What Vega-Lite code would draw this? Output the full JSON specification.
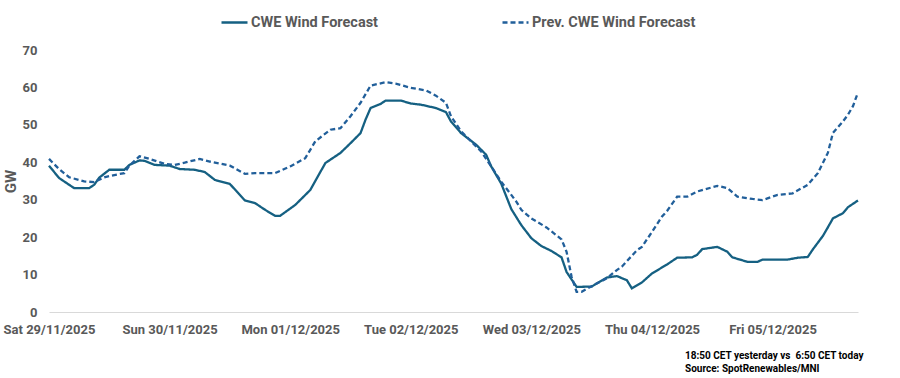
{
 "$schema": "https://vega.github.io/schema/vega-lite/v6.json",
 "width": 809,
 "height": 262,
 "autosize": {"type": "none"},
 "padding": {"left": 49, "top": 50, "right": 42, "bottom": 66},
 "background": "white",
 "config": {"view": {"stroke": null}, "font": "Roboto"},
 "title": {
  "text": ["18:50 CET yesterday vs \u00a06:50 CET today", "Source: SpotRenewables/MNI"],
  "orient": "bottom", "anchor": "start", "align": "left", "frame": "group",
  "dx": 636, "offset": 15,
  "font": "Roboto",
  "fontSize": 10, "fontWeight": "bold", "color": "#000000", "lineHeight": 12.5
 },
 "data": {"values": [
  {"s": "CWE Wind Forecast", "t": "2025-11-29T00:00Z", "v": 39.1},
  {"s": "CWE Wind Forecast", "t": "2025-11-29T02:00Z", "v": 35.8},
  {"s": "CWE Wind Forecast", "t": "2025-11-29T05:00Z", "v": 33.1},
  {"s": "CWE Wind Forecast", "t": "2025-11-29T08:00Z", "v": 33.1},
  {"s": "CWE Wind Forecast", "t": "2025-11-29T09:00Z", "v": 34.0},
  {"s": "CWE Wind Forecast", "t": "2025-11-29T10:00Z", "v": 35.9},
  {"s": "CWE Wind Forecast", "t": "2025-11-29T12:00Z", "v": 38.0},
  {"s": "CWE Wind Forecast", "t": "2025-11-29T15:00Z", "v": 38.0},
  {"s": "CWE Wind Forecast", "t": "2025-11-29T16:00Z", "v": 39.3},
  {"s": "CWE Wind Forecast", "t": "2025-11-29T18:00Z", "v": 40.5},
  {"s": "CWE Wind Forecast", "t": "2025-11-29T19:00Z", "v": 40.4},
  {"s": "CWE Wind Forecast", "t": "2025-11-29T21:00Z", "v": 39.3},
  {"s": "CWE Wind Forecast", "t": "2025-11-30T00:00Z", "v": 39.1},
  {"s": "CWE Wind Forecast", "t": "2025-11-30T02:00Z", "v": 38.2},
  {"s": "CWE Wind Forecast", "t": "2025-11-30T05:00Z", "v": 38.0},
  {"s": "CWE Wind Forecast", "t": "2025-11-30T07:00Z", "v": 37.4},
  {"s": "CWE Wind Forecast", "t": "2025-11-30T09:00Z", "v": 35.3},
  {"s": "CWE Wind Forecast", "t": "2025-11-30T12:00Z", "v": 34.2},
  {"s": "CWE Wind Forecast", "t": "2025-11-30T15:00Z", "v": 29.8},
  {"s": "CWE Wind Forecast", "t": "2025-11-30T17:00Z", "v": 29.1},
  {"s": "CWE Wind Forecast", "t": "2025-11-30T19:00Z", "v": 27.3},
  {"s": "CWE Wind Forecast", "t": "2025-11-30T21:00Z", "v": 25.7},
  {"s": "CWE Wind Forecast", "t": "2025-11-30T22:00Z", "v": 25.7},
  {"s": "CWE Wind Forecast", "t": "2025-12-01T01:00Z", "v": 28.6},
  {"s": "CWE Wind Forecast", "t": "2025-12-01T04:00Z", "v": 32.6},
  {"s": "CWE Wind Forecast", "t": "2025-12-01T07:00Z", "v": 39.8},
  {"s": "CWE Wind Forecast", "t": "2025-12-01T10:00Z", "v": 42.5},
  {"s": "CWE Wind Forecast", "t": "2025-12-01T12:00Z", "v": 45.1},
  {"s": "CWE Wind Forecast", "t": "2025-12-01T14:00Z", "v": 47.8},
  {"s": "CWE Wind Forecast", "t": "2025-12-01T15:00Z", "v": 51.4},
  {"s": "CWE Wind Forecast", "t": "2025-12-01T16:00Z", "v": 54.5},
  {"s": "CWE Wind Forecast", "t": "2025-12-01T18:00Z", "v": 55.6},
  {"s": "CWE Wind Forecast", "t": "2025-12-01T19:00Z", "v": 56.5},
  {"s": "CWE Wind Forecast", "t": "2025-12-01T22:00Z", "v": 56.5},
  {"s": "CWE Wind Forecast", "t": "2025-12-02T00:00Z", "v": 55.7},
  {"s": "CWE Wind Forecast", "t": "2025-12-02T02:00Z", "v": 55.4},
  {"s": "CWE Wind Forecast", "t": "2025-12-02T05:00Z", "v": 54.5},
  {"s": "CWE Wind Forecast", "t": "2025-12-02T07:00Z", "v": 53.4},
  {"s": "CWE Wind Forecast", "t": "2025-12-02T08:00Z", "v": 50.9},
  {"s": "CWE Wind Forecast", "t": "2025-12-02T10:00Z", "v": 47.8},
  {"s": "CWE Wind Forecast", "t": "2025-12-02T13:00Z", "v": 44.7},
  {"s": "CWE Wind Forecast", "t": "2025-12-02T15:00Z", "v": 42.0},
  {"s": "CWE Wind Forecast", "t": "2025-12-02T16:00Z", "v": 38.9},
  {"s": "CWE Wind Forecast", "t": "2025-12-02T18:00Z", "v": 34.3},
  {"s": "CWE Wind Forecast", "t": "2025-12-02T20:00Z", "v": 27.5},
  {"s": "CWE Wind Forecast", "t": "2025-12-02T22:00Z", "v": 23.2},
  {"s": "CWE Wind Forecast", "t": "2025-12-03T00:00Z", "v": 19.7},
  {"s": "CWE Wind Forecast", "t": "2025-12-03T02:00Z", "v": 17.6},
  {"s": "CWE Wind Forecast", "t": "2025-12-03T04:00Z", "v": 16.3},
  {"s": "CWE Wind Forecast", "t": "2025-12-03T06:00Z", "v": 14.6},
  {"s": "CWE Wind Forecast", "t": "2025-12-03T07:00Z", "v": 10.7},
  {"s": "CWE Wind Forecast", "t": "2025-12-03T09:00Z", "v": 6.7},
  {"s": "CWE Wind Forecast", "t": "2025-12-03T12:00Z", "v": 6.8},
  {"s": "CWE Wind Forecast", "t": "2025-12-03T13:00Z", "v": 7.6},
  {"s": "CWE Wind Forecast", "t": "2025-12-03T15:00Z", "v": 9.2},
  {"s": "CWE Wind Forecast", "t": "2025-12-03T17:00Z", "v": 9.6},
  {"s": "CWE Wind Forecast", "t": "2025-12-03T19:00Z", "v": 8.5},
  {"s": "CWE Wind Forecast", "t": "2025-12-03T20:00Z", "v": 6.3},
  {"s": "CWE Wind Forecast", "t": "2025-12-03T22:00Z", "v": 7.9},
  {"s": "CWE Wind Forecast", "t": "2025-12-04T00:00Z", "v": 10.3},
  {"s": "CWE Wind Forecast", "t": "2025-12-04T03:00Z", "v": 12.7},
  {"s": "CWE Wind Forecast", "t": "2025-12-04T05:00Z", "v": 14.5},
  {"s": "CWE Wind Forecast", "t": "2025-12-04T08:00Z", "v": 14.6},
  {"s": "CWE Wind Forecast", "t": "2025-12-04T09:00Z", "v": 15.3},
  {"s": "CWE Wind Forecast", "t": "2025-12-04T10:00Z", "v": 16.8},
  {"s": "CWE Wind Forecast", "t": "2025-12-04T13:00Z", "v": 17.4},
  {"s": "CWE Wind Forecast", "t": "2025-12-04T15:00Z", "v": 16.1},
  {"s": "CWE Wind Forecast", "t": "2025-12-04T16:00Z", "v": 14.6},
  {"s": "CWE Wind Forecast", "t": "2025-12-04T19:00Z", "v": 13.4},
  {"s": "CWE Wind Forecast", "t": "2025-12-04T21:00Z", "v": 13.4},
  {"s": "CWE Wind Forecast", "t": "2025-12-04T22:00Z", "v": 14.0},
  {"s": "CWE Wind Forecast", "t": "2025-12-05T03:00Z", "v": 14.0},
  {"s": "CWE Wind Forecast", "t": "2025-12-05T05:00Z", "v": 14.5},
  {"s": "CWE Wind Forecast", "t": "2025-12-05T07:00Z", "v": 14.7},
  {"s": "CWE Wind Forecast", "t": "2025-12-05T08:00Z", "v": 16.7},
  {"s": "CWE Wind Forecast", "t": "2025-12-05T10:00Z", "v": 20.3},
  {"s": "CWE Wind Forecast", "t": "2025-12-05T11:00Z", "v": 22.6},
  {"s": "CWE Wind Forecast", "t": "2025-12-05T12:00Z", "v": 25.0},
  {"s": "CWE Wind Forecast", "t": "2025-12-05T14:00Z", "v": 26.4},
  {"s": "CWE Wind Forecast", "t": "2025-12-05T15:00Z", "v": 28.0},
  {"s": "CWE Wind Forecast", "t": "2025-12-05T17:00Z", "v": 29.8},
  {"s": "Prev. CWE Wind Forecast", "t": "2025-11-29T00:00Z", "v": 40.9},
  {"s": "Prev. CWE Wind Forecast", "t": "2025-11-29T02:00Z", "v": 38.2},
  {"s": "Prev. CWE Wind Forecast", "t": "2025-11-29T04:00Z", "v": 36.0},
  {"s": "Prev. CWE Wind Forecast", "t": "2025-11-29T07:00Z", "v": 34.9},
  {"s": "Prev. CWE Wind Forecast", "t": "2025-11-29T09:00Z", "v": 34.7},
  {"s": "Prev. CWE Wind Forecast", "t": "2025-11-29T11:00Z", "v": 36.0},
  {"s": "Prev. CWE Wind Forecast", "t": "2025-11-29T13:00Z", "v": 36.6},
  {"s": "Prev. CWE Wind Forecast", "t": "2025-11-29T15:00Z", "v": 37.1},
  {"s": "Prev. CWE Wind Forecast", "t": "2025-11-29T16:00Z", "v": 39.1},
  {"s": "Prev. CWE Wind Forecast", "t": "2025-11-29T18:00Z", "v": 41.6},
  {"s": "Prev. CWE Wind Forecast", "t": "2025-11-29T20:00Z", "v": 40.9},
  {"s": "Prev. CWE Wind Forecast", "t": "2025-11-29T23:00Z", "v": 39.6},
  {"s": "Prev. CWE Wind Forecast", "t": "2025-11-30T01:00Z", "v": 39.3},
  {"s": "Prev. CWE Wind Forecast", "t": "2025-11-30T03:00Z", "v": 39.9},
  {"s": "Prev. CWE Wind Forecast", "t": "2025-11-30T06:00Z", "v": 40.9},
  {"s": "Prev. CWE Wind Forecast", "t": "2025-11-30T08:00Z", "v": 40.2},
  {"s": "Prev. CWE Wind Forecast", "t": "2025-11-30T12:00Z", "v": 39.1},
  {"s": "Prev. CWE Wind Forecast", "t": "2025-11-30T15:00Z", "v": 36.9},
  {"s": "Prev. CWE Wind Forecast", "t": "2025-11-30T17:00Z", "v": 37.1},
  {"s": "Prev. CWE Wind Forecast", "t": "2025-11-30T21:00Z", "v": 37.1},
  {"s": "Prev. CWE Wind Forecast", "t": "2025-12-01T00:00Z", "v": 38.9},
  {"s": "Prev. CWE Wind Forecast", "t": "2025-12-01T03:00Z", "v": 41.1},
  {"s": "Prev. CWE Wind Forecast", "t": "2025-12-01T05:00Z", "v": 45.6},
  {"s": "Prev. CWE Wind Forecast", "t": "2025-12-01T08:00Z", "v": 48.7},
  {"s": "Prev. CWE Wind Forecast", "t": "2025-12-01T10:00Z", "v": 49.1},
  {"s": "Prev. CWE Wind Forecast", "t": "2025-12-01T12:00Z", "v": 52.3},
  {"s": "Prev. CWE Wind Forecast", "t": "2025-12-01T14:00Z", "v": 55.9},
  {"s": "Prev. CWE Wind Forecast", "t": "2025-12-01T16:00Z", "v": 60.5},
  {"s": "Prev. CWE Wind Forecast", "t": "2025-12-01T19:00Z", "v": 61.4},
  {"s": "Prev. CWE Wind Forecast", "t": "2025-12-01T21:00Z", "v": 61.0},
  {"s": "Prev. CWE Wind Forecast", "t": "2025-12-02T00:00Z", "v": 59.9},
  {"s": "Prev. CWE Wind Forecast", "t": "2025-12-02T03:00Z", "v": 59.2},
  {"s": "Prev. CWE Wind Forecast", "t": "2025-12-02T05:00Z", "v": 57.8},
  {"s": "Prev. CWE Wind Forecast", "t": "2025-12-02T07:00Z", "v": 55.9},
  {"s": "Prev. CWE Wind Forecast", "t": "2025-12-02T08:00Z", "v": 52.3},
  {"s": "Prev. CWE Wind Forecast", "t": "2025-12-02T10:00Z", "v": 48.3},
  {"s": "Prev. CWE Wind Forecast", "t": "2025-12-02T12:00Z", "v": 45.6},
  {"s": "Prev. CWE Wind Forecast", "t": "2025-12-02T14:00Z", "v": 42.9},
  {"s": "Prev. CWE Wind Forecast", "t": "2025-12-02T16:00Z", "v": 38.9},
  {"s": "Prev. CWE Wind Forecast", "t": "2025-12-02T18:00Z", "v": 34.8},
  {"s": "Prev. CWE Wind Forecast", "t": "2025-12-02T20:00Z", "v": 31.3},
  {"s": "Prev. CWE Wind Forecast", "t": "2025-12-02T21:00Z", "v": 29.5},
  {"s": "Prev. CWE Wind Forecast", "t": "2025-12-02T22:00Z", "v": 27.3},
  {"s": "Prev. CWE Wind Forecast", "t": "2025-12-03T00:00Z", "v": 25.0},
  {"s": "Prev. CWE Wind Forecast", "t": "2025-12-03T03:00Z", "v": 22.6},
  {"s": "Prev. CWE Wind Forecast", "t": "2025-12-03T06:00Z", "v": 19.4},
  {"s": "Prev. CWE Wind Forecast", "t": "2025-12-03T07:00Z", "v": 16.1},
  {"s": "Prev. CWE Wind Forecast", "t": "2025-12-03T08:00Z", "v": 9.4},
  {"s": "Prev. CWE Wind Forecast", "t": "2025-12-03T09:00Z", "v": 5.4},
  {"s": "Prev. CWE Wind Forecast", "t": "2025-12-03T10:00Z", "v": 5.4},
  {"s": "Prev. CWE Wind Forecast", "t": "2025-12-03T12:00Z", "v": 6.9},
  {"s": "Prev. CWE Wind Forecast", "t": "2025-12-03T15:00Z", "v": 9.0},
  {"s": "Prev. CWE Wind Forecast", "t": "2025-12-03T17:00Z", "v": 11.2},
  {"s": "Prev. CWE Wind Forecast", "t": "2025-12-03T18:00Z", "v": 12.1},
  {"s": "Prev. CWE Wind Forecast", "t": "2025-12-03T21:00Z", "v": 16.5},
  {"s": "Prev. CWE Wind Forecast", "t": "2025-12-03T22:00Z", "v": 17.4},
  {"s": "Prev. CWE Wind Forecast", "t": "2025-12-04T00:00Z", "v": 21.4},
  {"s": "Prev. CWE Wind Forecast", "t": "2025-12-04T02:00Z", "v": 25.5},
  {"s": "Prev. CWE Wind Forecast", "t": "2025-12-04T03:00Z", "v": 27.0},
  {"s": "Prev. CWE Wind Forecast", "t": "2025-12-04T05:00Z", "v": 30.8},
  {"s": "Prev. CWE Wind Forecast", "t": "2025-12-04T07:00Z", "v": 30.8},
  {"s": "Prev. CWE Wind Forecast", "t": "2025-12-04T09:00Z", "v": 32.2},
  {"s": "Prev. CWE Wind Forecast", "t": "2025-12-04T13:00Z", "v": 33.7},
  {"s": "Prev. CWE Wind Forecast", "t": "2025-12-04T15:00Z", "v": 33.1},
  {"s": "Prev. CWE Wind Forecast", "t": "2025-12-04T17:00Z", "v": 30.8},
  {"s": "Prev. CWE Wind Forecast", "t": "2025-12-04T20:00Z", "v": 30.2},
  {"s": "Prev. CWE Wind Forecast", "t": "2025-12-04T22:00Z", "v": 29.9},
  {"s": "Prev. CWE Wind Forecast", "t": "2025-12-05T01:00Z", "v": 31.3},
  {"s": "Prev. CWE Wind Forecast", "t": "2025-12-05T04:00Z", "v": 31.7},
  {"s": "Prev. CWE Wind Forecast", "t": "2025-12-05T07:00Z", "v": 34.0},
  {"s": "Prev. CWE Wind Forecast", "t": "2025-12-05T09:00Z", "v": 37.1},
  {"s": "Prev. CWE Wind Forecast", "t": "2025-12-05T11:00Z", "v": 42.5},
  {"s": "Prev. CWE Wind Forecast", "t": "2025-12-05T12:00Z", "v": 47.8},
  {"s": "Prev. CWE Wind Forecast", "t": "2025-12-05T14:00Z", "v": 50.9},
  {"s": "Prev. CWE Wind Forecast", "t": "2025-12-05T15:00Z", "v": 52.7},
  {"s": "Prev. CWE Wind Forecast", "t": "2025-12-05T16:00Z", "v": 55.0},
  {"s": "Prev. CWE Wind Forecast", "t": "2025-12-05T17:00Z", "v": 58.7}
 ]},
 "mark": {"type": "line", "strokeWidth": 2.3, "interpolate": "linear"},
 "encoding": {
  "x": {
   "field": "t", "type": "temporal",
   "scale": {"type": "utc", "domain": [
    {"year": 2025, "month": 11, "date": 29, "hours": 0, "utc": true},
    {"year": 2025, "month": 12, "date": 5, "hours": 17, "utc": true}
   ]},
   "axis": {
    "title": null, "format": "%a %d/%m/%Y",
    "values": [
     {"year": 2025, "month": 11, "date": 29, "utc": true},
     {"year": 2025, "month": 11, "date": 30, "utc": true},
     {"year": 2025, "month": 12, "date": 1, "utc": true},
     {"year": 2025, "month": 12, "date": 2, "utc": true},
     {"year": 2025, "month": 12, "date": 3, "utc": true},
     {"year": 2025, "month": 12, "date": 4, "utc": true},
     {"year": 2025, "month": 12, "date": 5, "utc": true}
    ],
    "labelFlush": false, "labelOverlap": false, "ticks": false, "grid": false,
    "domainColor": "#d9d9d9", "domainWidth": 1,
    "labelFont": "Roboto", "labelFontSize": 13, "labelFontWeight": "bold",
    "labelColor": "#595959", "labelPadding": 11
   }
  },
  "y": {
   "field": "v", "type": "quantitative",
   "scale": {"domain": [0, 70], "nice": false},
   "axis": {
    "title": "GW", "titleFont": "Roboto", "titleFontSize": 15, "titleFontWeight": "bold",
    "titleColor": "#595959", "titlePadding": 4,
    "values": [0, 10, 20, 30, 40, 50, 60, 70],
    "domain": false, "ticks": false, "grid": false,
    "labelFont": "Roboto", "labelFontSize": 13, "labelFontWeight": "bold",
    "labelColor": "#595959", "labelPadding": 12
   }
  },
  "color": {
   "field": "s", "type": "nominal",
   "scale": {"domain": ["CWE Wind Forecast", "Prev. CWE Wind Forecast"], "range": ["#156082", "#215F9A"]},
   "legend": {
    "title": null, "orient": "none", "legendX": 171, "legendY": -42,
    "direction": "horizontal", "symbolType": "stroke", "symbolSize": 676,
    "symbolStrokeWidth": 2.5, "labelFont": "Roboto", "labelFontSize": 14.5,
    "labelFontWeight": "bold", "labelColor": "#595959", "labelOffset": 2,
    "labelLimit": 400, "columnPadding": 118
   }
  },
  "strokeDash": {
   "field": "s", "type": "nominal",
   "scale": {"domain": ["CWE Wind Forecast", "Prev. CWE Wind Forecast"], "range": [[1, 0], [5, 3]]},
   "legend": {
    "title": null, "orient": "none", "legendX": 171, "legendY": -42,
    "direction": "horizontal", "symbolType": "stroke", "symbolSize": 676,
    "symbolStrokeWidth": 2.5, "labelFont": "Roboto", "labelFontSize": 14.5,
    "labelFontWeight": "bold", "labelColor": "#595959", "labelOffset": 2,
    "labelLimit": 400, "columnPadding": 118
   }
  }
 }
}
